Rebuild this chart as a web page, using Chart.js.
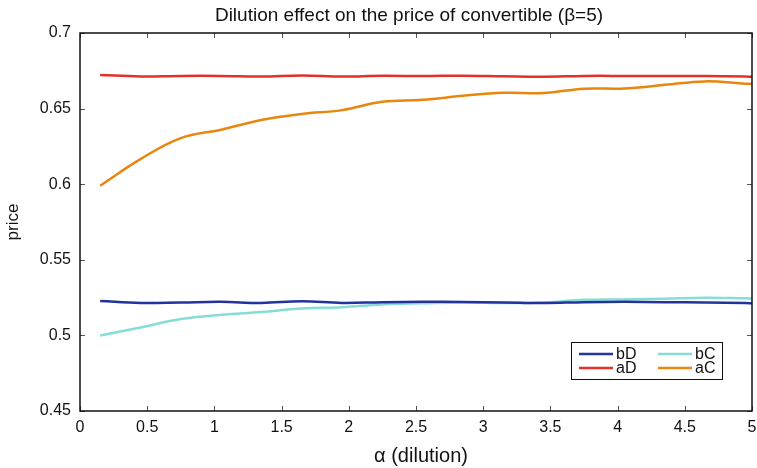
<!DOCTYPE html>
<html>
<head>
<meta charset="utf-8">
<script src="https://cdn.jsdelivr.net/npm/chart.js@4/dist/chart.umd.min.js"></script>
<style>
html,body{margin:0;padding:0;background:#fff;}
#wrap{width:757px;height:468px;position:relative;}
</style>
</head>
<body>
<div id="wrap"><canvas id="c" width="757" height="468"></canvas></div>
<script>
const alpha = [0.15,0.45,0.75,1.05,1.35,1.65,1.95,2.25,2.55,2.85,3.15,3.45,3.75,4.05,4.35,4.65,4.95,5.0];
const bD = [0.5228,0.5215,0.5218,0.5222,0.5215,0.5226,0.5215,0.5220,0.5222,0.5221,0.5218,0.5214,0.5220,0.5222,0.5220,0.5217,0.5214,0.5213];
const aD = [0.6722,0.6713,0.6716,0.6716,0.6712,0.6719,0.6712,0.6717,0.6715,0.6718,0.6714,0.6711,0.6716,0.6716,0.6715,0.6715,0.6712,0.6711];
const bC = [0.5000,0.5052,0.5108,0.5136,0.5155,0.5178,0.5186,0.5205,0.5212,0.5217,0.5214,0.5218,0.5235,0.5238,0.5243,0.5249,0.5245,0.5244];
const aC = [0.5990,0.6166,0.6305,0.6360,0.6425,0.6465,0.6490,0.6545,0.6558,0.6585,0.6605,0.6603,0.6632,0.6633,0.6657,0.6680,0.6665,0.6663];
const seriesNames = ['bD','aD','bC','aC'];
const xTicks = [0,0.5,1,1.5,2,2.5,3,3.5,4,4.5,5];
const yTicks = [0.45,0.5,0.55,0.6,0.65,0.7];
const titleText = 'Dilution effect on the price of convertible (\u03B2=5)';
const xTitle = '\u03B1 (dilution)';
const yTitle = 'price';

const colors = {bD:'#22349c', aD:'#e3302b', bC:'#86ddd6', aC:'#e8860f'};
const seriesData = {bD, aD, bC, aC};
const FONT = '"Liberation Sans", Arial, Helvetica, sans-serif';

function mk(name){
  return {
    label: name,
    data: alpha.map((a,i)=>({x:a, y:seriesData[name][i]})),
    borderColor: colors[name],
    backgroundColor: colors[name],
    borderWidth: 2.5,
    pointRadius: 0,
    tension: 0.4,
    fill: false
  };
}

const framePlugin = {
  id: 'frame',
  afterDraw(chart){
    const ctx = chart.ctx;
    const a = chart.chartArea;
    const xs = chart.scales.x, ys = chart.scales.y;
    ctx.save();
    ctx.strokeStyle = '#555';
    ctx.lineWidth = 1;
    const tl = 5;
    xTicks.forEach(v=>{
      const px = Math.round(xs.getPixelForValue(v))+0.5;
      ctx.beginPath();
      ctx.moveTo(px, a.bottom); ctx.lineTo(px, a.bottom - tl);
      ctx.moveTo(px, a.top); ctx.lineTo(px, a.top + tl);
      ctx.stroke();
    });
    yTicks.forEach(v=>{
      const py = Math.round(ys.getPixelForValue(v))+0.5;
      ctx.beginPath();
      ctx.moveTo(a.left, py); ctx.lineTo(a.left + tl, py);
      ctx.moveTo(a.right, py); ctx.lineTo(a.right - tl, py);
      ctx.stroke();
    });
    ctx.strokeStyle = '#111';
    ctx.lineWidth = 1.5;
    ctx.strokeRect(a.left, a.top, a.right - a.left, a.bottom - a.top);
    ctx.fillStyle = '#111';
    ctx.font = '19px ' + FONT;
    ctx.textAlign = 'center';
    ctx.textBaseline = 'middle';
    ctx.fillText(titleText, 409, 16);
    ctx.font = '20px ' + FONT;
    ctx.fillText(xTitle, 421, 456);
    ctx.save();
    ctx.translate(13, (a.top + a.bottom)/2);
    ctx.rotate(-Math.PI/2);
    ctx.font = '17px ' + FONT;
    ctx.fillText(yTitle, 0, 0);
    ctx.restore();
    const lx = 571, ly = 342, lw = 151, lh = 37;
    ctx.fillStyle = '#fff';
    ctx.fillRect(lx, ly, lw, lh);
    ctx.strokeStyle = '#111';
    ctx.lineWidth = 1;
    ctx.strokeRect(lx+0.5, ly+0.5, lw, lh);
    const cells = [
      {n:'bD', x:579, y:354},
      {n:'aD', x:579, y:368},
      {n:'bC', x:658, y:354},
      {n:'aC', x:658, y:368}
    ];
    ctx.font = '16px ' + FONT;
    ctx.textAlign = 'left';
    ctx.textBaseline = 'middle';
    cells.forEach(c=>{
      ctx.strokeStyle = colors[c.n];
      ctx.lineWidth = 2.5;
      ctx.beginPath();
      ctx.moveTo(c.x, c.y); ctx.lineTo(c.x + 34, c.y);
      ctx.stroke();
      ctx.fillStyle = '#111';
      ctx.fillText(c.n, c.x + 37, c.y + 1);
    });
    ctx.restore();
  }
};

new Chart(document.getElementById('c'), {
  type: 'line',
  data: { datasets: seriesNames.map(mk) },
  options: {
    responsive: false,
    animation: false,
    layout: { padding: { top: 33, right: 5, left: 0, bottom: 0 } },
    plugins: { legend: { display: false }, title: { display: false }, tooltip: { enabled: false } },
    scales: {
      x: {
        type: 'linear', min: 0, max: 5,
        afterBuildTicks(s){ s.ticks = xTicks.map(v=>({value:v})); },
        afterFit(s){ s.height = 57; s.paddingLeft = 0; s.paddingRight = 0; },
        grid: { display: false, drawTicks: false },
        border: { display: false },
        ticks: {
          padding: 7, color: '#111', font: { family: FONT, size: 16 },
          maxRotation: 0, autoSkip: false,
          callback: v => String(Number(v.toFixed(2)))
        }
      },
      y: {
        type: 'linear', min: 0.45, max: 0.7,
        afterBuildTicks(s){ s.ticks = yTicks.map(v=>({value:v})); },
        afterFit(s){ s.width = 80; s.paddingTop = 0; s.paddingBottom = 0; },
        grid: { display: false, drawTicks: false },
        border: { display: false },
        ticks: {
          padding: 9, color: '#111', font: { family: FONT, size: 16 },
          autoSkip: false,
          callback: v => String(Number(v.toFixed(2)))
        }
      }
    }
  },
  plugins: [framePlugin]
});
</script>
</body>
</html>
